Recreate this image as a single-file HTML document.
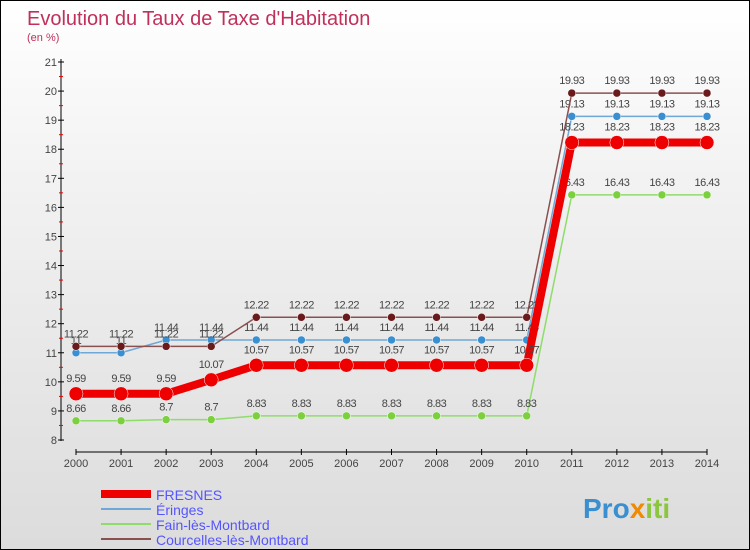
<!DOCTYPE html>
<html><head><meta charset="utf-8"><style>
body{margin:0}
#c{width:748px;height:548px;border:1px solid #000;background:linear-gradient(#fff,#f3f3f3 30%,#dcdcdc);position:relative;overflow:hidden;font-family:"Liberation Sans",sans-serif}
</style></head><body>
<div id="c">
<svg id="s" width="748" height="548" xmlns="http://www.w3.org/2000/svg">
<text x="26" y="24" font-size="20" fill="#c0305a">Evolution du Taux de Taxe d'Habitation</text>
<text x="26" y="40" font-size="11" fill="#c0305a">(en %)</text>
<g id="axes"></g><g id="series"></g>
<g>
<line x1="100" y1="493" x2="150" y2="493" stroke="#e00" stroke-width="8"/>
<text x="155" y="499" font-size="14" fill="#55f">FRESNES</text>
<line x1="100" y1="508" x2="150" y2="508" stroke="#6fa8d6" stroke-width="2"/>
<text x="155" y="514" font-size="14" fill="#55f">Éringes</text>
<line x1="100" y1="523" x2="150" y2="523" stroke="#8fdc6a" stroke-width="2"/>
<text x="155" y="529" font-size="14" fill="#55f">Fain-lès-Montbard</text>
<line x1="100" y1="538" x2="150" y2="538" stroke="#8a5050" stroke-width="2"/>
<text x="155" y="544" font-size="14" fill="#55f">Courcelles-lès-Montbard</text>
</g>
<text x="582" y="517" font-size="28" font-weight="bold" fill="#3a8fd0">Pro<tspan fill="#f08a00">x</tspan><tspan fill="#8cc63f">iti</tspan></text>
</svg></div>
<script>
const years=[2000,2001,2002,2003,2004,2005,2006,2007,2008,2009,2010,2011,2012,2013,2014];
const yTicks=[8,9,10,11,12,13,14,15,16,17,18,19,20,21];
const fresnes=[9.59,9.59,9.59,10.07,10.57,10.57,10.57,10.57,10.57,10.57,10.57,18.23,18.23,18.23,18.23];
const eringes=[11,11,11.44,11.44,11.44,11.44,11.44,11.44,11.44,11.44,11.44,19.13,19.13,19.13,19.13];
const fain=[8.66,8.66,8.7,8.7,8.83,8.83,8.83,8.83,8.83,8.83,8.83,16.43,16.43,16.43,16.43];
const courcelles=[11.22,11.22,11.22,11.22,12.22,12.22,12.22,12.22,12.22,12.22,12.22,19.93,19.93,19.93,19.93];
const NS="http://www.w3.org/2000/svg";
const X=i=>75+i*(706-75)/(years.length-1);
const Y=v=>439-(v-8)*(439-61)/13;
function mk(p,t,a){const e=document.createElementNS(NS,t);for(const k in a)e.setAttribute(k,a[k]);p.appendChild(e);return e;}
const ax=document.getElementById('axes');
let l=mk(ax,'line',{x1:60,y1:58,x2:60,y2:440,stroke:'#000'});


l=mk(ax,'line',{x1:75,y1:451,x2:706,y2:451,stroke:'#000'});


yTicks.forEach(v=>{
 mk(ax,'line',{x1:57,x2:63,y1:Y(v),y2:Y(v),stroke:'#000'});
 if(v<21)mk(ax,'line',{x1:58,x2:62,y1:Y(v+0.5),y2:Y(v+0.5),stroke:'#e00'});
 const t=mk(ax,'text',{x:56,y:Y(v)+4,'font-size':11,fill:'#444','text-anchor':'end'});t.textContent=v;
 
 
});
years.forEach((y,i)=>{
 mk(ax,'line',{x1:X(i),x2:X(i),y1:448,y2:454,stroke:'#000'});
 const t=mk(ax,'text',{x:X(i),y:466,'font-size':11,fill:'#444','text-anchor':'middle'});t.textContent=y;
 
 
});
const sg=document.getElementById('series');
function draw(data,col,w,r,name,fill){
 const g=mk(sg,'g',{});
 
 
 mk(g,'polyline',{points:data.map((v,i)=>X(i)+','+Y(v)).join(' '),fill:'none',stroke:col,'stroke-width':w,'stroke-linejoin':'round'});
 data.forEach((v,i)=>{
  const c=mk(g,'circle',{cx:X(i),cy:Y(v),r:r,fill:fill,stroke:'#fff','stroke-width':0.5});
  
  
  const t=mk(g,'text',{x:X(i),y:Y(v)-r-5,'font-size':11,fill:'#444','text-anchor':'middle','letter-spacing':'-0.5'});t.textContent=v;
  
  
 });
}
draw(fain,'#8fdc6a',1.5,4,'series-fain','#7cd040');
draw(eringes,'#6fa8d6',1.5,4,'series-eringes','#3a8fd0');
draw(courcelles,'#8a5050',1.5,4,'series-courcelles','#6a1a1a');
draw(fresnes,'#ee0000',8,7,'series-fresnes','#ee0000');
</script>
</body></html>
